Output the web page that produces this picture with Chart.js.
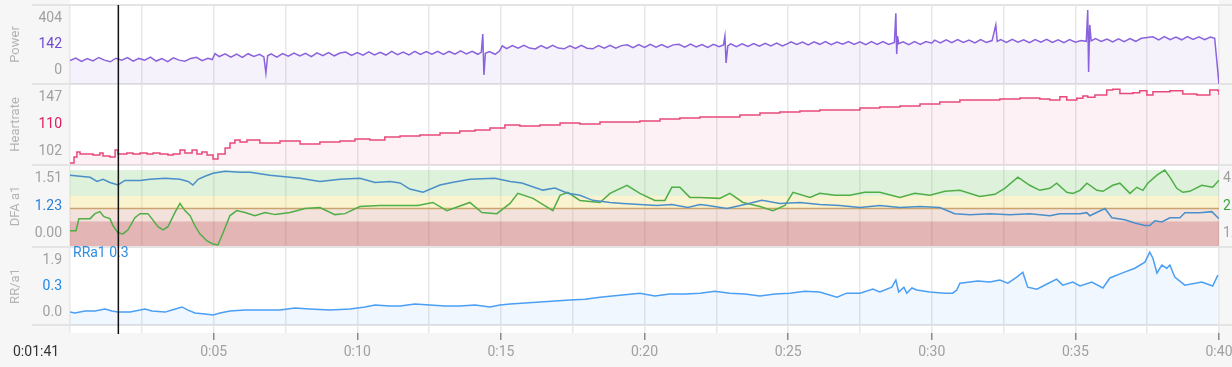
<!DOCTYPE html>
<html><head><meta charset="utf-8">
<script src="https://cdn.jsdelivr.net/npm/chart.js@4/dist/chart.umd.min.js"></script>
<style>
html,body{margin:0;padding:0;background:#f6f6f6;overflow:hidden;width:1232px;height:367px}
#wrap{position:relative;width:1262px;height:367px}
canvas{display:block}
</style></head><body><div id="wrap"><canvas id="c" width="1262" height="367"></canvas></div>
<script>
// ---------- data (time in minutes) ----------
const powerTime = [0,0.2,0.4,0.6,0.8,1.0,1.2,1.4,1.6,1.8,2.0,2.2,2.4,2.6,2.8,3.0,3.2,3.4,3.6,3.8,4.0,4.2,4.4,4.6,4.8,4.95,
 5.05,5.2,5.4,5.6,5.8,6.0,6.2,6.4,6.6,6.75,6.82,6.88,7.0,7.2,7.4,7.6,7.8,8.0,8.2,8.4,8.6,8.8,9.0,9.2,9.4,9.6,9.8,10.0,10.2,10.4,10.6,10.8,11.0,11.2,11.4,11.6,11.8,12.0,12.2,12.4,12.6,12.8,13.0,13.2,13.4,13.6,13.8,14.0,14.2,14.32,14.37,14.41,14.46,14.6,14.8,14.95,
 15.05,15.2,15.4,15.6,15.8,16.0,16.2,16.4,16.6,16.8,17.0,17.2,17.4,17.6,17.8,18.0,18.2,18.4,18.6,18.8,19.0,19.2,19.4,19.6,19.8,20.0,20.2,20.4,20.6,20.8,21.0,21.2,21.4,21.6,21.8,22.0,22.2,22.4,22.6,22.75,22.8,22.84,22.9,23.0,23.2,23.4,23.6,23.8,24.0,24.2,24.4,24.6,24.8,25.0,
 25.1,25.3,25.5,25.7,25.9,26.1,26.3,26.5,26.7,26.9,27.1,27.3,27.5,27.7,27.9,28.1,28.3,28.5,28.7,28.75,28.78,28.81,28.85,29.0,29.2,29.4,29.6,29.8,30.0,
 30.1,30.3,30.5,30.7,30.9,31.1,31.3,31.5,31.7,31.9,32.1,32.23,32.28,32.4,32.6,32.8,33.0,33.2,33.4,33.6,33.8,34.0,34.2,34.4,34.6,34.8,35.0,35.2,35.38,35.43,35.46,35.5,35.55,35.7,35.9,36.1,36.3,36.5,36.7,36.9,37.1,37.3,37.5,37.7,37.9,38.1,38.3,38.5,38.7,38.9,39.1,39.3,39.5,39.7,39.85,40.0];
const powerWatts = [124,138,120,135,123,141,127,118,137,126,140,121,136,127,143,122,135,119,139,127,121,136,142,124,137,130,
 162,146,160,143,159,142,161,146,158,144,58,150,160,143,162,148,164,149,163,145,166,151,167,150,165,170,152,167,153,171,155,169,154,173,156,170,155,173,157,172,158,174,157,173,159,176,160,174,158,170,266,48,163,173,158,175,
 203,188,204,190,206,191,186,204,189,205,191,187,203,189,205,190,187,204,191,206,190,204,208,193,209,195,211,196,210,194,208,211,196,212,197,210,195,211,198,208,255,112,203,213,199,214,200,215,201,216,202,217,203,216,
 224,210,223,208,224,211,225,209,223,212,226,210,224,209,225,211,226,210,221,376,159,255,214,224,209,225,211,226,217,
 233,219,235,220,236,221,234,219,236,221,231,314,227,236,221,237,222,235,220,236,222,237,221,235,220,236,222,231,227,393,64,314,229,241,226,239,224,240,225,241,227,243,247,251,235,252,236,250,235,252,237,251,236,250,243,0];

const hrTime = [0,0.14,0.24,0.35,0.59,0.8,1.04,1.15,1.39,1.57,1.67,1.98,2.19,2.44,2.68,2.89,3.13,3.41,3.59,3.83,4.0,4.25,4.42,4.59,4.77,4.98,5.15,5.4,5.57,5.74,5.92,6.16,6.61,7.31,8.01,8.7,9.4,9.92,10.44,10.96,11.49,12.18,12.88,13.57,14.1,14.62,15.14,15.66,16.36,17.06,17.75,18.45,19.14,19.84,20.54,21.23,21.93,22.62,23.32,24.02,24.71,25.41,26.1,26.8,27.5,28.19,28.89,29.59,30.28,30.98,31.67,32.37,33.07,33.76,34.11,34.46,34.7,34.91,35.05,35.26,35.43,35.68,35.96,36.09,36.3,36.55,37.0,37.24,37.49,37.7,38.29,38.74,39.23,39.68,39.96,40.0];
const hrBpm = [97.4,101.5,105,103.6,103.6,102.9,104.3,102.2,101.5,106.4,103.6,104.3,103.6,104.3,103.6,104.3,103.6,102.9,103.6,106.4,104.3,106.4,103.6,105,102.9,100.1,103.6,107.7,111.2,113.3,111.9,113.3,111.2,112.6,110.5,111.9,112.6,114,113.3,115.3,116,116.7,118.1,119.5,120.2,121.6,123.6,123,123.6,125,124.3,125.7,125.7,126.4,127.8,128.5,129.2,129.2,130.6,131.9,132.6,133.3,134,134,135.4,136.1,136.8,138.2,139.5,140.9,140.9,141.6,142.3,141.6,140.9,143.2,140.9,140.9,142.1,143.7,142.8,144.4,144.4,147.8,148.3,145.5,146,147.3,144.4,146.6,147.3,145.1,144.4,147.8,147.3,144.4];

const dfaTime = [0,0.35,0.7,0.94,1.15,1.39,1.67,1.91,2.44,2.78,3.31,3.83,4.11,4.28,4.46,4.7,4.98,5.4,5.92,6.27,6.96,7.66,8.01,8.7,9.4,10.09,10.62,11.14,11.49,11.83,12.29,12.88,13.3,13.92,14.79,15.32,15.73,16.46,16.88,17.33,17.75,18.2,18.8,19.25,19.84,20.43,20.95,21.51,21.93,22.21,22.87,23.49,24.09,24.71,25.41,26.1,26.8,27.5,28.19,28.89,29.59,30.28,30.8,31.33,32.02,32.72,33.41,34.11,34.46,35.16,35.4,35.5,36.03,36.27,36.72,37.07,37.42,37.59,37.77,38.01,38.29,38.64,38.81,39.33,39.75,40.0];
const dfaA1 = [1.40,1.38,1.36,1.28,1.32,1.26,1.21,1.30,1.30,1.32,1.34,1.32,1.28,1.21,1.32,1.38,1.44,1.48,1.46,1.46,1.40,1.36,1.34,1.28,1.32,1.34,1.26,1.28,1.25,1.13,1.07,1.21,1.26,1.32,1.34,1.28,1.25,1.11,1.15,1.05,1.01,0.91,0.87,0.85,0.83,0.81,0.83,0.77,0.83,0.81,0.75,0.83,0.91,0.85,0.87,0.83,0.81,0.77,0.81,0.77,0.79,0.77,0.65,0.63,0.65,0.63,0.65,0.61,0.65,0.65,0.67,0.61,0.75,0.57,0.53,0.47,0.42,0.42,0.51,0.49,0.57,0.57,0.67,0.67,0.69,0.55];

const altTime = [0,0.21,0.31,0.7,0.87,1.04,1.18,1.39,1.5,1.67,1.84,2.02,2.26,2.44,2.71,2.85,3.06,3.24,3.41,3.65,3.83,4.0,4.18,4.35,4.52,4.77,4.98,5.15,5.33,5.57,5.81,6.09,6.44,6.79,7.14,7.66,8.18,8.7,9.22,9.57,10.09,10.79,11.49,12.11,12.63,13.12,13.92,14.34,14.86,15.32,15.59,16.12,16.81,17.06,17.33,17.75,18.45,18.8,19.39,19.84,20.36,20.71,20.95,21.23,21.58,21.93,22.62,22.97,23.43,24.02,24.47,24.89,25.17,25.76,26.1,26.63,27.15,27.67,28.19,28.89,29.41,29.93,30.46,30.98,31.67,32.2,32.54,33.0,33.41,33.76,34.11,34.35,34.7,34.91,35.16,35.4,35.75,35.96,36.3,36.55,36.9,37.14,37.35,37.52,37.84,38.11,38.29,38.53,38.74,38.98,39.4,39.78,40.0];
const altVal = [19.8,19.8,34.6,34.6,40.7,43.2,37,34.6,25.9,17.3,16,21,35.8,40.7,40.7,34.6,24.7,21,24.7,42,53.1,44.4,38.3,25.9,16,7.4,3.7,2.5,17.3,38.3,44.4,42,38.3,42,39.5,42,46.9,48.1,39.5,40.7,49.4,50.6,50.6,50.6,54.3,44.4,54.3,42,40.7,53.1,65.4,59.3,44.4,63,66.7,56.8,54.3,65.4,75.3,65.4,56.8,56.8,72.8,72.8,60.5,60.5,59.3,65.4,54.3,49.4,44.4,50.6,66.7,60.5,65.4,63,63,66.7,66.7,60.5,65.4,63,67.9,69.1,61.7,64.2,71.6,85.2,75.3,69.1,71.6,77.8,66.7,65.4,69.1,77.8,69.1,67.9,75.3,77.8,65.4,72.8,69.1,77.8,87.7,93.8,85.2,71.6,66.7,67.9,75.3,72.8,81.5];

const rrTime = [0,0.17,0.52,0.87,1.22,1.46,1.67,2.09,2.44,2.61,2.85,3.31,3.55,3.9,4.11,4.35,4.7,4.98,5.22,5.57,6.09,6.79,7.31,7.83,8.35,9.05,9.75,10.27,10.62,11.14,11.49,12.01,12.53,13.05,13.57,14.1,14.62,14.97,15.32,15.84,16.36,16.88,17.4,17.93,18.45,19.14,19.84,20.36,20.88,21.41,21.93,22.45,22.97,23.49,24.02,24.54,25.06,25.58,26.1,26.7,27.04,27.5,27.95,28.19,28.61,28.75,28.85,29.03,29.13,29.31,29.48,29.93,30.46,30.73,30.87,30.98,31.6,32.02,32.37,32.65,32.96,33.17,33.34,33.66,34.01,34.35,34.56,34.91,35.16,35.57,35.96,36.2,36.62,37.07,37.42,37.59,37.7,37.84,38.01,38.18,38.29,38.46,38.81,39.4,39.78,39.96];
const rrVal = [0.05,0.02,0.09,0.09,0.16,0.09,0.05,0.05,0.12,0.16,0.09,0.05,0.12,0.23,0.12,0.02,-0.02,-0.05,0.02,0.09,0.12,0.12,0.12,0.19,0.16,0.12,0.16,0.23,0.30,0.26,0.26,0.33,0.30,0.26,0.26,0.30,0.23,0.30,0.33,0.37,0.40,0.44,0.47,0.50,0.57,0.64,0.71,0.61,0.68,0.68,0.71,0.78,0.71,0.68,0.61,0.68,0.71,0.78,0.75,0.57,0.71,0.71,0.85,0.75,0.92,1.17,0.75,0.92,0.71,0.89,0.82,0.75,0.71,0.71,0.82,1.06,1.13,1.10,1.17,1.06,1.27,1.44,0.92,0.85,1.03,1.20,0.99,1.10,0.96,1.10,0.89,1.24,1.41,1.58,1.79,2.14,1.93,1.41,1.69,1.58,1.69,1.27,0.99,1.10,0.96,1.34];

const dfaZoneBounds = [0, 0.5, 0.75, 1.0, 1.5];
const dfaThreshold = 0.75;
const cursorSeconds = 101;

const powerTicks = ['404', '142', '0'];
const hrTicks = ['147', '110', '102'];
const dfaTicks = ['1.51', '1.23', '0.00'];
const altTicks = ['4.1', '2.2', '1.0'];
const rrTicks = ['1.9', '0.3', '0.0'];
const xTickMinutes = [5, 10, 15, 20, 25, 30, 35, 40];

// ---------- helpers ----------
const FONT = 'Roboto';
const pts = (t, v) => t.map((x, i) => ({x, y: v[i]}));
const tickFracs = [0.165, 0.5, 0.83];
const fmtHM = m => Math.floor(m / 60) + ':' + String(Math.round(m % 60)).padStart(2, '0');
const fmtHMS = s => Math.floor(s / 3600) + ':' + String(Math.floor(s / 60) % 60).padStart(2, '0') + ':' + String(s % 60).padStart(2, '0');

function leftAxis(min, max, labels, accent, title, weight, stackWeight) {
  return {
    type: 'linear', position: 'left', stack: 'L', stackWeight, weight, min, max,
    grid: {display: false, drawTicks: false}, border: {display: false},
    title: {display: !!title, text: title, color: '#b3b3b3', font: {family: FONT, size: 13}, padding: {top: 8, bottom: 0}},
    afterBuildTicks: ax => { ax.ticks = tickFracs.map(f => ({value: ax.min + f * (ax.max - ax.min)})); },
    afterFit: ax => { ax.width = 70; ax.paddingTop = 0; ax.paddingBottom = 0; },
    ticks: {
      display: !!labels, padding: 8, autoSkip: false,
      font: {family: FONT, size: 14},
      color: c => (c.index === 1 ? accent : '#a0a0a0'),
      callback: (v, i) => labels ? labels[2 - i] : ''
    }
  };
}
function rightAxis(labels, accent, weight, stackWeight, min, max) {
  return {
    type: 'linear', position: 'right', stack: 'R', stackWeight, weight, min: min ?? 0, max: max ?? 1,
    grid: {display: false, drawTicks: false}, border: {display: false},
    afterBuildTicks: ax => { ax.ticks = tickFracs.map(f => ({value: ax.min + f * (ax.max - ax.min)})); },
    afterFit: ax => { ax.width = 43; ax.paddingTop = 0; ax.paddingBottom = 0; },
    ticks: {
      display: !!labels, padding: 4, autoSkip: false,
      font: {family: FONT, size: 14},
      color: c => (c.index === 1 ? accent : '#a0a0a0'),
      callback: (v, i) => labels ? labels[2 - i] : ''
    }
  };
}

const deco = {
  id: 'deco',
  beforeDraw(chart) {
    const {ctx, chartArea: a, width, height} = chart;
    ctx.save();
    ctx.fillStyle = '#f6f6f6';
    ctx.fillRect(0, 0, width, height);
    ctx.fillStyle = '#ffffff';
    ctx.fillRect(a.left, 0, a.right - a.left, a.bottom);
    ctx.restore();
  },
  beforeDatasetsDraw(chart) {
    const {ctx, chartArea: a, scales} = chart;
    const s = scales.yDfa;
    const colors = ['rgba(185,70,70,0.40)', 'rgba(215,160,140,0.30)', 'rgba(240,220,120,0.35)', 'rgba(120,200,110,0.25)'];
    ctx.save();
    for (let i = 0; i < dfaZoneBounds.length - 1; i++) {
      const y1 = s.getPixelForValue(dfaZoneBounds[i]);
      const y0 = s.getPixelForValue(dfaZoneBounds[i + 1]);
      ctx.fillStyle = colors[i];
      ctx.fillRect(a.left, y0, a.right - a.left, y1 - y0);
    }
    const ty = s.getPixelForValue(dfaThreshold);
    ctx.strokeStyle = '#c9a56e'; ctx.lineWidth = 1.5;
    ctx.beginPath(); ctx.moveTo(a.left, ty); ctx.lineTo(a.right, ty); ctx.stroke();
    ctx.strokeStyle = '#e4e4e4'; ctx.lineWidth = 2;
    const ys = [scales.yPow.top, scales.yHr.top, scales.yDfa.top, scales.yRr.top, scales.yRr.bottom];
    for (const y of ys) { ctx.beginPath(); ctx.moveTo(32, y); ctx.lineTo(chart.width, y); ctx.stroke(); }
    ctx.restore();
  },
  afterDatasetsDraw(chart) {
    const {ctx, chartArea: a, scales} = chart;
    ctx.save();
    ctx.font = '14px ' + FONT;
    ctx.textBaseline = 'middle';
    ctx.fillStyle = '#2f8de4';
    ctx.textAlign = 'left';
    ctx.fillText('RRa1 ' + rrTicks[1], a.left + 3, scales.yRr.top + 6);
    const cx = scales.x.getPixelForValue(cursorSeconds / 60);
    ctx.strokeStyle = '#111'; ctx.lineWidth = 1.5;
    ctx.beginPath(); ctx.moveTo(cx, a.top); ctx.lineTo(cx, a.bottom + 1); ctx.stroke();
    ctx.fillStyle = '#333';
    ctx.fillText(fmtHMS(cursorSeconds), 13, 352);
    ctx.restore();
  }
};

const line = (data, color, yAxisID, fill, fillColor, stepped) => ({
  data, yAxisID, xAxisID: 'x', borderColor: color, borderWidth: 1.5, pointRadius: 0,
  tension: 0, stepped: !!stepped, fill: fill ? 'start' : false, backgroundColor: fillColor || 'transparent'
});

new Chart(document.getElementById('c'), {
  type: 'line',
  data: {
    datasets: [
      line(pts(powerTime, powerWatts), '#8a62dc', 'yPow', true, 'rgba(140,110,220,0.09)'),
      line(pts(hrTime, hrBpm), '#e8497b', 'yHr', true, 'rgba(232,73,123,0.08)', true),
      line(pts(dfaTime, dfaA1), '#4a8fc9', 'yDfa', false),
      line(pts(altTime, altVal), '#4fae45', 'yAlt', false),
      line(pts(rrTime, rrVal), '#4a9ff5', 'yRr', true, 'rgba(74,159,245,0.08)')
    ]
  },
  options: {
    responsive: false, animation: false, events: [],
    layout: {padding: {top: 5, left: 0, right: 0, bottom: 0}},
    plugins: {legend: {display: false}, tooltip: {enabled: false}},
    scales: {
      x: {
        type: 'linear', position: 'bottom', min: 0, max: 40,
        border: {display: false},
        grid: {color: '#e8e8e8', lineWidth: 1.5, drawTicks: true, tickLength: 7,
          tickColor: c => (c.tick && xTickMinutes.includes(c.tick.value)) ? '#8a8a8a' : 'rgba(0,0,0,0)'},
        afterBuildTicks: ax => { const t = []; for (let v = 0; v <= 40; v += 2.5) t.push({value: v}); ax.ticks = t; },
        afterFit: ax => { ax.height = 34; ax.paddingLeft = 0; ax.paddingRight = 0; },
        ticks: {autoSkip: false, maxRotation: 0, padding: 4, color: '#a0a0a0', font: {family: FONT, size: 14},
          callback: v => xTickMinutes.includes(v) ? fmtHM(v) : ''}
      },
      yPad: leftAxis(0, 1, null, '#000', '', 1, 8),
      yRr: leftAxis(-0.4, 2.32, rrTicks, '#1e88e5', 'RR/a1', 2, 78),
      yDfa: leftAxis(0, 1.6, dfaTicks, '#2b7fd6', 'DFA a1', 3, 82),
      yHr: leftAxis(96, 152, hrTicks, '#e0195a', 'Heartrate', 4, 81),
      yPow: leftAxis(0, 420, powerTicks, '#7048d6', 'Power', 5, 79),
      rPow: rightAxis(null, '#000', 1, 79),
      rHr: rightAxis(null, '#000', 2, 81),
      yAlt: rightAxis(altTicks, '#3aa63a', 3, 82, 0, 100),
      rRr: rightAxis(null, '#000', 4, 78),
      rPad: rightAxis(null, '#000', 5, 8)
    }
  },
  plugins: [deco]
});
</script>
</body></html>
